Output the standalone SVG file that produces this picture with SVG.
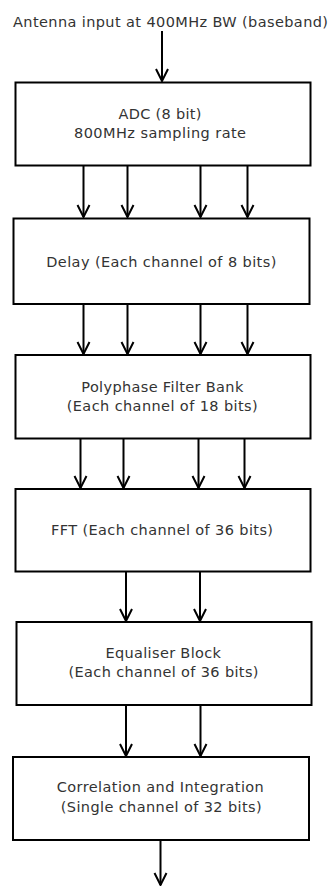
<svg xmlns="http://www.w3.org/2000/svg" width="330" height="886" viewBox="0 0 330 886">
<defs>
<style>
.box{fill:#fff;stroke:#000;stroke-width:2}
.lbl{font-family:"DejaVu Sans","Liberation Sans",sans-serif;font-size:14.5px;fill:#333;text-anchor:middle}
.con{stroke:#000;stroke-width:2;fill:none;marker-end:url(#ah)}
</style>
<marker id="ah" viewBox="-14 -8 16 16" refX="0" refY="0" markerWidth="16" markerHeight="16" markerUnits="userSpaceOnUse" orient="auto">
<path d="M -12 -6 L 0 0 L -12 6" fill="none" stroke="#000" stroke-width="2"/>
</marker>
</defs>
<rect width="330" height="886" fill="#fff"/>
<text class="lbl" x="170.5" y="27" textLength="315" lengthAdjust="spacing">Antenna input at 400MHz BW (baseband)</text>
<g id="adc">
<rect class="box" x="15.5" y="82.5" width="295" height="83"/>
<text class="lbl" x="160" y="119" textLength="83" lengthAdjust="spacing">ADC (8 bit)</text>
<text class="lbl" x="160" y="138" textLength="172" lengthAdjust="spacing">800MHz sampling rate</text>
</g>
<g id="delay">
<rect class="box" x="13.5" y="218.5" width="296" height="85.5"/>
<text class="lbl" x="161.3" y="266.5" textLength="230" lengthAdjust="spacing">Delay (Each channel of 8 bits)</text>
</g>
<g id="pfb">
<rect class="box" x="15.5" y="355" width="295" height="83.5"/>
<text class="lbl" x="162.3" y="391.5" textLength="162" lengthAdjust="spacing">Polyphase Filter Bank</text>
<text class="lbl" x="162.2" y="411" textLength="191" lengthAdjust="spacing">(Each channel of 18 bits)</text>
</g>
<g id="fft">
<rect class="box" x="15.5" y="489" width="295" height="82.5"/>
<text class="lbl" x="162" y="534.5" textLength="222" lengthAdjust="spacing">FFT (Each channel of 36 bits)</text>
</g>
<g id="equaliser">
<rect class="box" x="16.5" y="622" width="295" height="83"/>
<text class="lbl" x="163.2" y="657.5" textLength="115.5" lengthAdjust="spacing">Equaliser Block</text>
<text class="lbl" x="163.5" y="676.5" textLength="190" lengthAdjust="spacing">(Each channel of 36 bits)</text>
</g>
<g id="correlation">
<rect class="box" x="13" y="757" width="296" height="83"/>
<text class="lbl" x="160.3" y="791.5" textLength="207" lengthAdjust="spacing">Correlation and Integration</text>
<text class="lbl" x="161.2" y="812" textLength="201" lengthAdjust="spacing">(Single channel of 32 bits)</text>
</g>
<g id="connectors">
<line class="con" x1="162" y1="31" x2="162" y2="81"/>
<line class="con" x1="83.5" y1="166" x2="83.5" y2="217"/>
<line class="con" x1="127.5" y1="166" x2="127.5" y2="217"/>
<line class="con" x1="200.5" y1="166" x2="200.5" y2="217"/>
<line class="con" x1="247.5" y1="166" x2="247.5" y2="217"/>
<line class="con" x1="83.5" y1="304" x2="83.5" y2="354"/>
<line class="con" x1="127.5" y1="304" x2="127.5" y2="354"/>
<line class="con" x1="200.5" y1="304" x2="200.5" y2="354"/>
<line class="con" x1="247.5" y1="304" x2="247.5" y2="354"/>
<line class="con" x1="80.5" y1="438.5" x2="80.5" y2="488"/>
<line class="con" x1="123.5" y1="438.5" x2="123.5" y2="488"/>
<line class="con" x1="198.5" y1="438.5" x2="198.5" y2="488"/>
<line class="con" x1="244.5" y1="438.5" x2="244.5" y2="488"/>
<line class="con" x1="126" y1="572" x2="126" y2="621"/>
<line class="con" x1="200" y1="572" x2="200" y2="621"/>
<line class="con" x1="126" y1="705" x2="126" y2="756"/>
<line class="con" x1="200.5" y1="705" x2="200.5" y2="756"/>
<line class="con" x1="160.5" y1="840" x2="160.5" y2="885"/>
</g>
</svg>
